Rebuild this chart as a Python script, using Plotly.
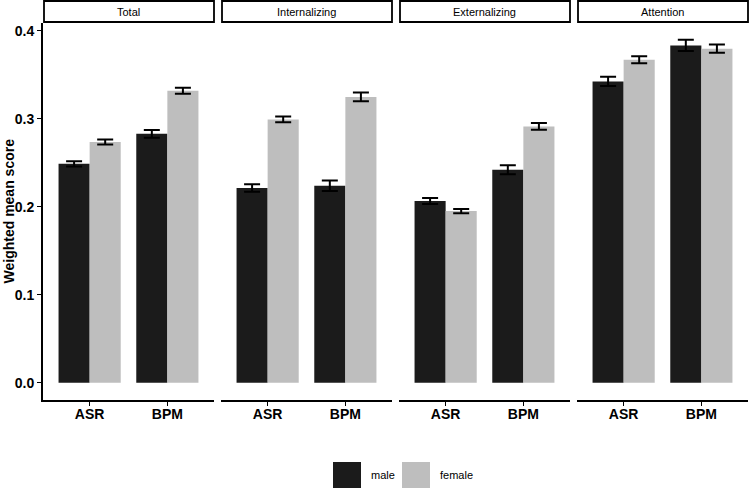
import plotly.graph_objects as go
from plotly.subplots import make_subplots

panels = ["Total", "Internalizing", "Externalizing", "Attention"]
informants = ["ASR", "BPM"]
male_mean = {
    "Total": [0.249, 0.283],
    "Internalizing": [0.2214, 0.224],
    "Externalizing": [0.2066, 0.2422],
    "Attention": [0.3426, 0.3835],
}
male_err = {
    "Total": [0.003, 0.0045],
    "Internalizing": [0.0042, 0.006],
    "Externalizing": [0.0034, 0.005],
    "Attention": [0.0053, 0.0064],
}
female_mean = {
    "Total": [0.2737, 0.332],
    "Internalizing": [0.2994, 0.325],
    "Externalizing": [0.1952, 0.2915],
    "Attention": [0.3673, 0.3798],
}
female_err = {
    "Total": [0.0028, 0.0034],
    "Internalizing": [0.0032, 0.005],
    "Externalizing": [0.0025, 0.0038],
    "Attention": [0.004, 0.0047],
}
y_ticks = [0.0, 0.1, 0.2, 0.3, 0.4]
sex_labels = ["male", "female"]
colors = {"male": "#1b1b1b", "female": "#bebebe"}

FONT = "Liberation Sans, Arial, Helvetica, sans-serif"
W, H = 750, 488
ML, MT, MR, MB = 43, 23, 2, 88
PW = W - ML - MR
PH = H - MT - MB

fig = make_subplots(rows=1, cols=4, shared_yaxes=True, horizontal_spacing=7 / PW)

for i, p in enumerate(panels):
    col = i + 1
    fig.add_trace(go.Bar(
        x=informants, y=male_mean[p], name="male", marker_color=colors["male"],
        marker_line_width=0, offsetgroup="m", showlegend=False,
        error_y=dict(type="data", array=male_err[p], color="black", thickness=2, width=8),
    ), row=1, col=col)
    fig.add_trace(go.Bar(
        x=informants, y=female_mean[p], name="female", marker_color=colors["female"],
        marker_line_width=0, offsetgroup="f", showlegend=False,
        error_y=dict(type="data", array=female_err[p], color="black", thickness=2, width=8),
    ), row=1, col=col)

fig.update_layout(
    width=W, height=H,
    margin=dict(l=ML, r=MR, t=MT, b=MB, autoexpand=False),
    paper_bgcolor="white", plot_bgcolor="white",
    barmode="group", bargap=0.2, bargroupgap=0,
    font=dict(family=FONT, color="black"),
    showlegend=False,
)

fig.update_xaxes(
    type="category", range=[-0.6, 1.6], showgrid=False, zeroline=False, automargin=False,
    showline=True, linecolor="black", linewidth=2,
    ticks="outside", ticklen=4, tickwidth=1.2, tickcolor="black", ticklabelstandoff=-4,
    tickfont=dict(family=FONT, size=14, color="black", weight="bold"),
)
fig.update_yaxes(
    range=[-0.0195, 0.409], showgrid=False, zeroline=False, automargin=False,
    tickvals=y_ticks, tickformat=".1f",
)
fig.update_yaxes(
    showline=True, linecolor="black", linewidth=2,
    ticks="outside", ticklen=4, tickwidth=1.2, tickcolor="black",
    tickfont=dict(family=FONT, size=14, color="black", weight="bold"),
    row=1, col=1,
)
for c in range(2, 5):
    fig.update_yaxes(showline=False, ticks="", showticklabels=False, row=1, col=c)

shapes = []
annotations = []

# y-axis title
annotations.append(dict(xref="paper", yref="paper", x=(8 - ML) / PW, y=0.5,
                        text="Weighted mean score", textangle=-90, showarrow=False,
                        xanchor="center", yanchor="middle",
                        font=dict(family=FONT, size=14, color="black", weight="bold")))

# strips
for i, p in enumerate(panels):
    xa = fig.layout["xaxis" if i == 0 else f"xaxis{i+1}"]
    d0, d1 = xa.domain
    y0 = 1 + 1 / PH
    y1 = 1 + 22 / PH
    shapes.append(dict(type="rect", xref="paper", yref="paper", x0=d0 + 1 / PW, x1=d1,
                       y0=y0, y1=y1, line=dict(color="black", width=1.8), fillcolor="white"))
    annotations.append(dict(xref="paper", yref="paper", x=(d0 + d1) / 2, y=(y0 + y1) / 2,
                            text=p, showarrow=False, font=dict(family=FONT, size=11, color="black"),
                            xanchor="center", yanchor="middle"))

# legend keys (window pixel coordinates converted to paper)
def px_x(px):
    return (px - ML) / PW

def px_y(py):
    return (H - MB - py) / PH

legend_pos = {"male": (333, 361, 369), "female": (402, 430, 438)}
for s in sex_labels:
    x0, x1, tx = legend_pos[s]
    shapes.append(dict(type="rect", xref="paper", yref="paper", x0=px_x(x0), x1=px_x(x1),
                       y0=px_y(488), y1=px_y(462), line=dict(width=0), fillcolor=colors[s]))
    annotations.append(dict(xref="paper", yref="paper", x=px_x(tx), y=px_y(475), text=s,
                            showarrow=False, xanchor="left", yanchor="middle",
                            font=dict(family=FONT, size=11, color="black")))

fig.update_layout(shapes=shapes, annotations=annotations)

fig.write_html("out.html", config={"displayModeBar": False},
               post_script="document.body.style.margin='0';")
